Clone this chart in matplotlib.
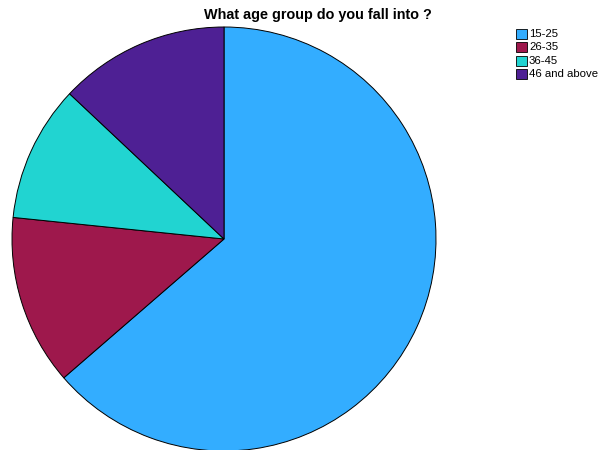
import matplotlib.pyplot as plt
from matplotlib.patches import Rectangle

plt.rcParams['font.family'] = ['Liberation Sans', 'DejaVu Sans']

age_groups = ['15-25', '26-35', '36-45', '46 and above']
counts = [49, 10, 8, 10]
colors = ['#33adff', '#9e184c', '#21d4d1', '#4e2094']

W, H = 602, 450
fig = plt.figure(figsize=(W / 100, H / 100), dpi=100)

# pie: center (224, 239) px, radius 212 px
cx, cy, r = 224, 239, 212
ax = fig.add_axes([(cx - r) / W, (H - cy - r) / H, 2 * r / W, 2 * r / H])
ax.pie(counts, colors=colors, startangle=90, counterclock=False,
       radius=1, wedgeprops=dict(edgecolor='black', linewidth=0.7))
ax.set_xlim(-1, 1)
ax.set_ylim(-1, 1)
ax.axis('off')

fig.text(318 / W, 1 - 15 / H, 'What age group do you fall into ?',
         ha='center', va='center', fontsize=10.4, fontweight='bold')

# legend
for i, (lab, col) in enumerate(zip(age_groups, colors)):
    y = 34 + i * 13.3
    fig.patches.append(Rectangle((516 / W, 1 - (y + 5) / H), 11 / W, 10 / H,
                                 facecolor=col, edgecolor='black', linewidth=0.6,
                                 transform=fig.transFigure, figure=fig))
    fig.text(529 / W, 1 - y / H, lab, ha='left', va='center', fontsize=8.2)

fig.savefig('out.png', dpi=100)
